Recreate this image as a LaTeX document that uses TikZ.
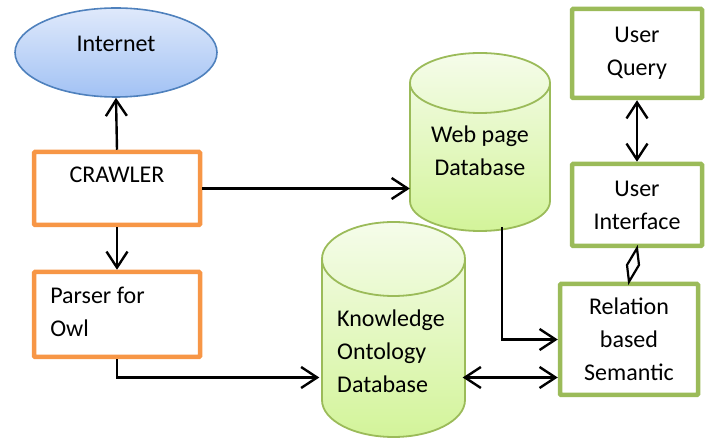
\documentclass[tikz,border=0pt]{standalone}
\usepackage{fontspec}
\setmainfont{Carlito}
\usetikzlibrary{arrows.meta,shapes.geometric,calc}

\definecolor{orng}{HTML}{F79646}
\definecolor{grn}{HTML}{9BBB59}
\definecolor{blueline}{HTML}{4F81BD}
\definecolor{blueTop}{HTML}{DFE9FB}
\definecolor{blueBot}{HTML}{A2C2F4}
\definecolor{cylTop}{HTML}{F5FCEA}
\definecolor{cylBot}{HTML}{D3F49A}

% database drum: centre x, x radius, top-cap centre y, bottom-cap centre y, y radius
\newcommand\dbcylinder[5]{%
  \shade[top color=cylTop, bottom color=cylBot]
    ({#1-#2},#3) -- ({#1-#2},#4)
    arc[start angle=180, end angle=360, x radius=#2, y radius=#5]
    -- ({#1+#2},#3)
    arc[start angle=0, end angle=180, x radius=#2, y radius=#5] -- cycle;
  \draw[grn, line width=1.8pt]
    ({#1-#2},#3) -- ({#1-#2},#4)
    arc[start angle=180, end angle=360, x radius=#2, y radius=#5]
    -- ({#1+#2},#3)
    arc[start angle=0, end angle=360, x radius=#2, y radius=#5];
}

\begin{document}
\begin{tikzpicture}[x=1pt, y=1pt,
  font=\fontsize{24}{33}\selectfont,
  obox/.style={draw=orng, line width=4.5pt, rounded corners=1pt, fill=white},
  gbox/.style={draw=grn, line width=4.5pt, rounded corners=1pt, fill=white, align=center},
  tipb/.tip={Straight Barb[length=16pt, width=21pt]},
  arr/.style={line width=2.4pt, -tipb},
  arrboth/.style={line width=2.4pt, tipb-tipb}]

\useasboundingbox (0,0) rectangle (710,439);

% Internet cloud
\node[ellipse, draw=blueline, line width=1.6pt, top color=blueTop, bottom color=blueBot,
      minimum width=202, minimum height=89,
      label={[yshift=8.5pt]center:Internet}] (inet) at (116,386.5) {};

% databases
\dbcylinder{480}{70}{356}{238}{30}
\dbcylinder{393.5}{71.5}{180}{39}{37}
\node[align=center, minimum width=140, minimum height=160, inner sep=0] (webdb) at (480,288) {Web page\\Database};
\node[align=left, minimum width=143, minimum height=120, inner sep=0] (kdb) at (391,88) {Knowledge\\Ontology\\Database};
\coordinate (wbot) at (502,212);
\coordinate (kdbrow) at (393.5,61.5);

% process boxes
\node[obox, minimum width=166, minimum height=73,
      label={[yshift=13.5pt]center:CRAWLER}] (crawler) at (117,250.5) {};
\node[obox, minimum width=166, minimum height=85,
      label={[anchor=west, align=left, xshift=15pt, yshift=3pt]west:Parser for\\Owl}] (parser) at (117,124.5) {};

\node[gbox, minimum width=130, minimum height=89] (uq) at (637,385.5) {User\\Query};
\node[gbox, minimum width=130, minimum height=82] (ui) at (637,234) {User\\Interface};
\node[gbox, minimum width=138, minimum height=111] (rel) at (629,99.5) {Relation\\based\\Semantic};

% connectors
\draw[arr] (crawler.north) -- (inet.south);
\draw[arr] (crawler.south) -- (parser.north);
\draw[arr] (crawler.east) -- (crawler.east -| webdb.west);
\draw[arr] (parser.south) |- (kdb.west |- kdbrow);
\draw[arrboth] (kdb.east |- kdbrow) -- (rel.west |- kdbrow);
\draw[arr] (wbot) |- (rel.west);
\draw[arrboth] (uq.south) -- (ui.north);
% aggregation link drawn as an open diamond spanning the gap
\draw[line width=2.2pt, line join=miter]
  (ui.south) -- ($(ui.south)!0.5!(rel.north)+(-6,0)$) -- (rel.north)
  -- ($(ui.south)!0.5!(rel.north)+(6,0)$) -- cycle;
\end{tikzpicture}
\end{document}
